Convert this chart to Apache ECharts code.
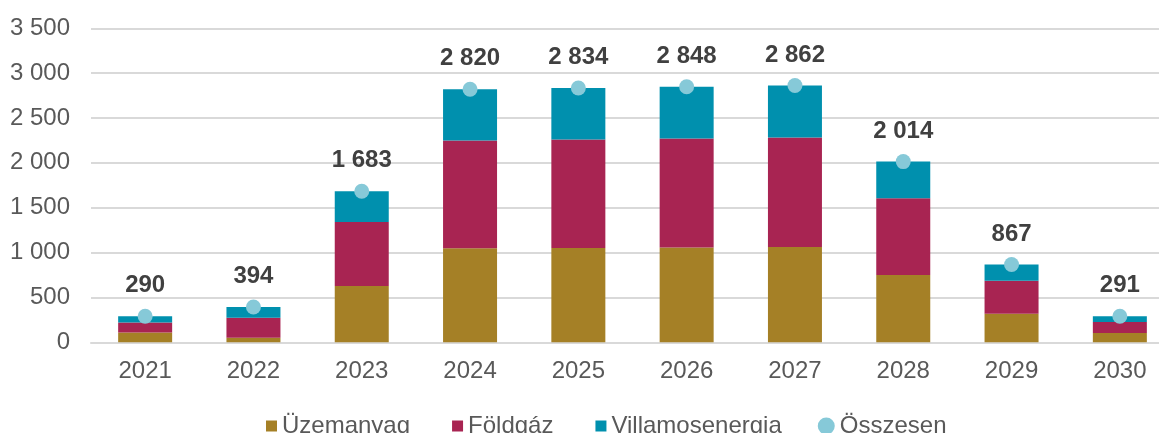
<!DOCTYPE html>
<html>
<head>
<meta charset="utf-8">
<script src="https://cdn.jsdelivr.net/npm/echarts@6/dist/echarts.min.js"></script>
<style>
  html, body { margin: 0; padding: 0; background: #ffffff; }
  #chart { width: 1159px; height: 433px; }
</style>
</head>
<body>
<div id="chart"></div>
<script>
const categories = ['2021', '2022', '2023', '2024', '2025', '2026', '2027', '2028', '2029', '2030'];
const uzemanyag = [110, 50, 627, 1047, 1050, 1058, 1062, 750, 319, 104];
const foldgaz = [110, 225, 713, 1203, 1211, 1214, 1221, 857, 367, 122];
const villamosenergia = [70, 119, 343, 570, 573, 576, 579, 407, 181, 65];
const osszesen = [290, 394, 1683, 2820, 2834, 2848, 2862, 2014, 867, 291];
const yTicks = [0, 500, 1000, 1500, 2000, 2500, 3000, 3500];

const fmt = v => String(v).replace(/\B(?=(\d{3})+(?!\d))/g, ' ');
const FONT = '"Liberation Sans", Arial, sans-serif';
const sq = 'path://M6,3h11v11h-11z M0,0 M17,17';

const chart = echarts.init(document.getElementById('chart'), null, { renderer: 'canvas' });
chart.setOption({
  animation: false,
  textStyle: { fontFamily: FONT },
  grid: { left: 91, top: 28.3, bottom: 90.7, width: 1083, containLabel: false, outerBoundsMode: 'none' },
  legend: {
    left: 255, top: 409,
    itemWidth: 17, itemHeight: 17, itemGap: 36,
    textStyle: { fontSize: 24, color: '#595959', fontFamily: FONT },
    data: [
      { name: 'Üzemanyag', icon: sq },
      { name: 'Földgáz', icon: sq },
      { name: 'Villamosenergia', icon: sq },
      { name: 'Összesen', icon: 'circle' }
    ]
  },
  xAxis: {
    type: 'category',
    data: categories,
    axisLine: { lineStyle: { color: '#D9D9D9', width: 2 } },
    axisTick: { show: false },
    axisLabel: { fontSize: 24, color: '#595959', margin: 17, fontFamily: FONT }
  },
  yAxis: {
    type: 'value',
    min: yTicks[0], max: yTicks[yTicks.length - 1], interval: 500,
    axisLine: { show: false },
    axisTick: { show: false },
    splitLine: { lineStyle: { color: '#D9D9D9', width: 2 } },
    axisLabel: { fontSize: 24, color: '#595959', margin: 21, fontFamily: FONT, formatter: v => fmt(v) }
  },
  series: [
    { name: 'Üzemanyag', type: 'bar', stack: 'a', barWidth: 54, data: uzemanyag, itemStyle: { color: '#A58026' } },
    { name: 'Földgáz', type: 'bar', stack: 'a', barWidth: 54, data: foldgaz, itemStyle: { color: '#A82452' } },
    { name: 'Villamosenergia', type: 'bar', stack: 'a', barWidth: 54, data: villamosenergia, itemStyle: { color: '#0090AE' } },
    {
      name: 'Összesen', type: 'line', data: osszesen,
      symbol: 'circle', symbolSize: 15,
      itemStyle: { color: '#86C9D8' },
      lineStyle: { width: 0, opacity: 0 },
      z: 10,
      label: {
        show: true, position: 'top', distance: 11,
        fontSize: 24, fontWeight: 'bold', color: '#404040', fontFamily: FONT,
        formatter: p => fmt(p.value)
      }
    }
  ]
});
</script>
</body>
</html>
